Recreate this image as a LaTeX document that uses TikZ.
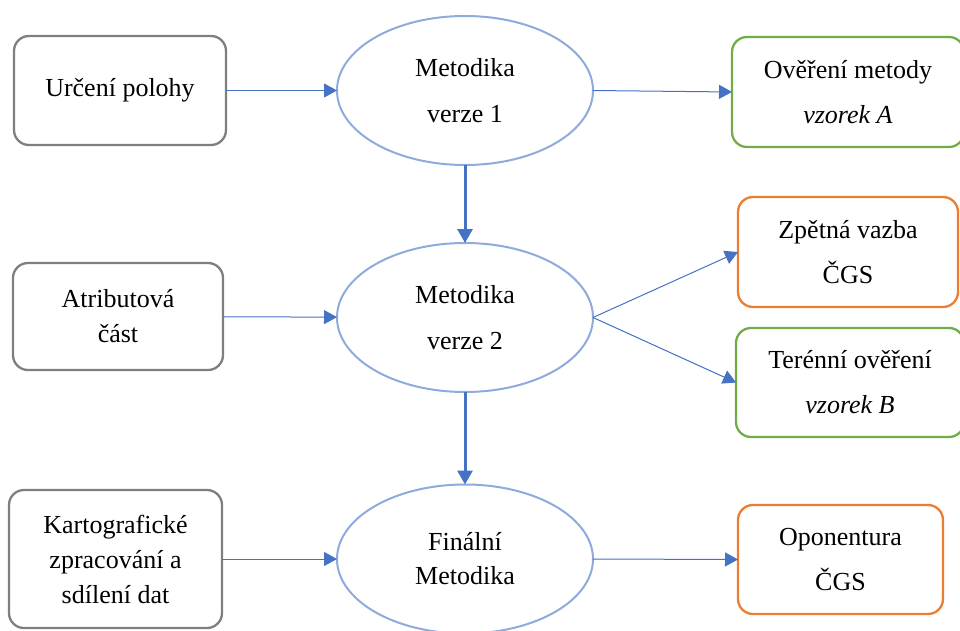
\documentclass[tikz,border=0pt]{standalone}
\usepackage{fontspec}
\setmainfont{Liberation Serif}
\usetikzlibrary{shapes.geometric,arrows.meta}

\definecolor{boxgray}{HTML}{7F7F7F}
\definecolor{boxgreen}{HTML}{70AD47}
\definecolor{boxorange}{HTML}{ED7D31}
\definecolor{ellblue}{HTML}{8FAADC}
\definecolor{arrowblue}{HTML}{4472C4}

\begin{document}
\begin{tikzpicture}[x=1pt,y=-1pt,
  base/.style={draw, rounded corners=15pt, line width=2.3pt, inner sep=0pt,
    outer sep=0pt, align=center, font=\fontsize{26}{35}\selectfont},
  inbox/.style={base, draw=boxgray},
  okbox/.style={base, draw=boxgreen, font=\fontsize{26}{45}\selectfont},
  revbox/.style={base, draw=boxorange, font=\fontsize{26}{45}\selectfont},
  stage/.style={ellipse, draw=ellblue, line width=2pt, inner sep=0pt,
    outer sep=0pt, align=center, minimum width=256pt, minimum height=149pt},
  flow/.style={draw=arrowblue, line width=1pt,
    -{Triangle[length=13pt,width=14pt]}},
  mainflow/.style={draw=arrowblue, line width=3pt,
    -{Triangle[length=14pt,width=15pt]}}
]
\useasboundingbox (0,0) rectangle (960,631);

% inputs on the left
\node[inbox, minimum width=212pt, minimum height=109pt] (poloha) at (120,90.5) {Určení polohy};
\node[inbox, minimum width=210pt, minimum height=107pt] (atribut) at (118,316.5) {Atributová\\část};
\node[inbox, minimum width=213pt, minimum height=138pt] (karto) at (115.5,559) {Kartografické\\zpracování a\\sdílení dat};

% method versions
\node[stage, font=\fontsize{26}{46}\selectfont] (m1) at (465,90.5) {Metodika\\verze 1};
\node[stage, font=\fontsize{26}{46}\selectfont] (m2) at (465,317.5) {Metodika\\verze 2};
\node[stage, font=\fontsize{26}{34}\selectfont] (m3) at (465,559) {Finální\\Metodika};

% checks and reviews on the right
\node[okbox, minimum width=232pt, minimum height=110pt] (overeni) at (848,92) {Ověření metody\\\textit{vzorek A}};
\node[revbox, minimum width=220pt, minimum height=110pt] (zpetna) at (848,252) {Zpětná vazba\\ČGS};
\node[okbox, minimum width=228pt, minimum height=109pt] (teren) at (850,382.5) {Terénní ověření\\\textit{vzorek B}};
\node[revbox, minimum width=205pt, minimum height=109pt] (oponent) at (840.5,559.5) {Oponentura\\ČGS};

% connectors
\draw[flow] (poloha) -- (m1);
\draw[flow] (atribut) -- (m2);
\draw[flow] (karto) -- (m3);
\draw[flow] (m1.east) -- (overeni.west);
\draw[flow] (m2.east) -- (zpetna.west);
\draw[flow] (m2.east) -- (teren.west);
\draw[flow] (m3.east) -- (oponent.west);
\draw[mainflow] (m1.south) -- (m2.north);
\draw[mainflow] (m2.south) -- (m3.north);
\end{tikzpicture}
\end{document}
